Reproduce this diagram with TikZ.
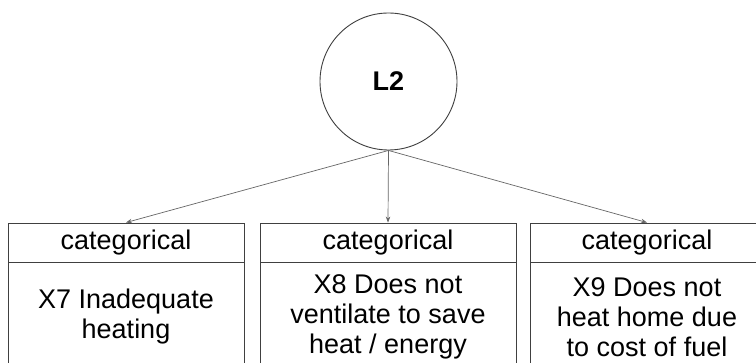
\documentclass[tikz,border=0pt]{standalone}
\usepackage{fontspec}
\setmainfont{Liberation Sans}
\usetikzlibrary{arrows.meta,positioning}

\tikzset{
  latent/.style={draw=black!75, circle, line width=0.9pt, minimum size=137pt, inner sep=0pt},
  headbox/.style={draw=black!75, line width=0.9pt, minimum height=39pt, inner sep=0pt},
  itembox/.style={draw=black!75, line width=0.9pt, minimum height=108pt, inner sep=0pt, align=center},
  loading/.style={draw=black!60, line width=0.7pt, -{Stealth[length=6pt,width=4.5pt]}}
}

\begin{document}
\begin{tikzpicture}[x=1pt,y=-1pt,font=\fontsize{27}{30}\selectfont]
\useasboundingbox[fill=white] (0,0) rectangle (756,363);
\clip (0,0) rectangle (756,363);

% latent factor
\node[latent] (l2) at (388.5,81.5) {\textbf{L2}};

% indicators
\node[headbox, minimum width=236pt] (h7) at (126,242.5) {categorical};
\node[itembox, minimum width=236pt, below=0pt of h7] (x7) {X7 Inadequate\\heating};
\node[headbox, minimum width=256pt] (h8) at (388,242.5) {categorical};
\node[itembox, minimum width=256pt, below=0pt of h8] (x8) {X8 Does not\\ventilate to save\\heat / energy};
\node[headbox, minimum width=234pt] (h9) at (647,242.5) {categorical};
\node[itembox, minimum width=234pt, below=0pt of h9] (x9) {X9 Does not\\heat home due\\to cost of fuel};

% loadings
\draw[loading] (l2.south) -- (h7.north);
\draw[loading] (l2.south) -- (h8.north);
\draw[loading] (l2.south) -- (h9.north);
\end{tikzpicture}
\end{document}
